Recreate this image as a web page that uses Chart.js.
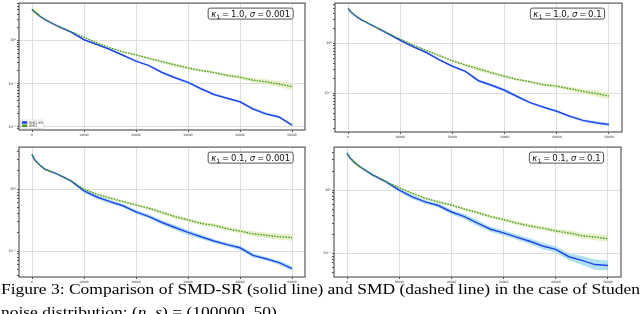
<!DOCTYPE html>
<html>
<head>
<meta charset="utf-8">
<script src="https://cdn.jsdelivr.net/npm/chart.js"></script>
<style>
  body { margin: 0; width: 640px; height: 314px; overflow: hidden; background: #fff; position: relative; }
  .panel { position: absolute; }
  .cap { position: absolute; left: 1px; white-space: nowrap; font-family: 'Liberation Serif', serif; font-size: 15px; line-height: 15px; color: #000; transform-origin: 0 0; }
</style>
</head>
<body>
<div class="panel" style="left:0px;top:0px"><canvas id="c1" width="310" height="140"></canvas></div>
<div class="panel" style="left:316px;top:0px"><canvas id="c2" width="310" height="142"></canvas></div>
<div class="panel" style="left:0px;top:144px"><canvas id="c3" width="310" height="143"></canvas></div>
<div class="panel" style="left:315px;top:144px"><canvas id="c4" width="310" height="143"></canvas></div>
<div class="cap" id="l1" style="top:282px">Figure 3: Comparison of SMD-SR (solid line) and SMD (dashed line) in the case of Student</div>
<div class="cap" id="l2" style="top:305px">noise distribution; (<i>n</i>, <i>s</i>) = (100000, 50)</div>
<script>
// iterations where the curves were read
var steps = [0, 500, 1500, 2500, 5000, 7500, 10000, 12500, 15000, 17500, 20000, 22500, 25000,
             27500, 30000, 32500, 35000, 37500, 40000, 42500, 45000, 47500, 50000];
var xTicks = [0, 10000, 20000, 30000, 40000, 50000];
var yTicks = [0.01, 0.1, 1];
var yTickLabels = ['10⁻²', '10⁻¹', '10⁰'];
var seriesNames = ['SMD-SR', 'SMD'];
var noteKappa = ['1.0', '1.0', '0.1', '0.1'];
var noteSigma = ['0.001', '0.1', '0.001', '0.1'];

// kappa = 1.0, sigma = 0.001
var tlSmdSr = [5.2, 4.5, 3.6, 3.0, 2.1, 1.55, 1.03, 0.80, 0.61, 0.45, 0.33, 0.26, 0.18, 0.137, 0.107, 0.076, 0.056, 0.046, 0.038, 0.026, 0.020, 0.017, 0.011];
var tlSmd   = [5.2, 4.5, 3.6, 3.0, 2.1, 1.58, 1.17, 0.87, 0.67, 0.54, 0.46, 0.38, 0.32, 0.27, 0.23, 0.20, 0.18, 0.155, 0.14, 0.12, 0.11, 0.098, 0.085];
var tlSmdSrBand = [0, 0, 0, 0, 0.005, 0.01, 0.015, 0.015, 0.02, 0.02, 0.02, 0.02, 0.025, 0.025, 0.03, 0.025, 0.025, 0.025, 0.02, 0.025, 0.03, 0.03, 0.03];
var tlSmdBand   = [0, 0, 0, 0, 0.005, 0.01, 0.01, 0.015, 0.015, 0.02, 0.02, 0.025, 0.035, 0.04, 0.035, 0.03, 0.03, 0.035, 0.04, 0.05, 0.06, 0.07, 0.07];

// kappa = 1.0, sigma = 0.1
var trSmdSr = [5.0, 4.3, 3.5, 3.0, 2.2, 1.6, 1.16, 0.86, 0.66, 0.47, 0.35, 0.276, 0.18, 0.146, 0.116, 0.086, 0.065, 0.053, 0.044, 0.035, 0.029, 0.026, 0.024];
var trSmd   = [5.0, 4.3, 3.5, 3.0, 2.2, 1.62, 1.22, 0.93, 0.72, 0.57, 0.45, 0.37, 0.31, 0.26, 0.22, 0.19, 0.17, 0.15, 0.14, 0.125, 0.11, 0.10, 0.089];
var trSmdSrBand = [0, 0, 0, 0, 0.005, 0.01, 0.015, 0.015, 0.015, 0.02, 0.02, 0.02, 0.025, 0.03, 0.03, 0.025, 0.02, 0.02, 0.02, 0.02, 0.025, 0.03, 0.03];
var trSmdBand   = [0, 0, 0, 0, 0.005, 0.01, 0.01, 0.015, 0.015, 0.02, 0.02, 0.03, 0.04, 0.035, 0.03, 0.025, 0.025, 0.03, 0.035, 0.04, 0.05, 0.06, 0.06];

// kappa = 0.1, sigma = 0.001
var blSmdSr = [3.65, 3.0, 2.46, 2.1, 1.74, 1.36, 0.94, 0.75, 0.63, 0.54, 0.43, 0.36, 0.29, 0.24, 0.20, 0.17, 0.145, 0.127, 0.113, 0.085, 0.075, 0.065, 0.052];
var blSmd   = [3.65, 3.0, 2.46, 2.1, 1.74, 1.36, 1.0, 0.83, 0.72, 0.63, 0.56, 0.49, 0.42, 0.36, 0.32, 0.28, 0.26, 0.23, 0.21, 0.19, 0.18, 0.17, 0.165];
var blSmdSrBand = [0, 0, 0, 0, 0.01, 0.02, 0.035, 0.035, 0.03, 0.03, 0.03, 0.035, 0.035, 0.04, 0.04, 0.035, 0.03, 0.03, 0.035, 0.035, 0.03, 0.035, 0.04];
var blSmdBand   = [0, 0, 0, 0, 0.01, 0.015, 0.015, 0.015, 0.02, 0.02, 0.02, 0.025, 0.03, 0.03, 0.03, 0.03, 0.03, 0.035, 0.035, 0.04, 0.045, 0.05, 0.05];

// kappa = 0.1, sigma = 0.1
var brSmdSr = [3.9, 3.28, 2.7, 2.33, 1.72, 1.35, 1.0, 0.78, 0.65, 0.57, 0.45, 0.38, 0.30, 0.24, 0.21, 0.18, 0.155, 0.13, 0.115, 0.088, 0.077, 0.066, 0.064];
var brSmd   = [3.9, 3.28, 2.7, 2.33, 1.72, 1.35, 1.09, 0.89, 0.74, 0.65, 0.58, 0.50, 0.44, 0.38, 0.34, 0.30, 0.27, 0.25, 0.225, 0.21, 0.19, 0.18, 0.17];
var brSmdSrBand = [0, 0, 0, 0, 0.01, 0.02, 0.035, 0.035, 0.03, 0.03, 0.035, 0.04, 0.045, 0.04, 0.04, 0.04, 0.045, 0.05, 0.05, 0.055, 0.07, 0.08, 0.08];
var brSmdBand   = [0, 0, 0, 0, 0.01, 0.015, 0.015, 0.015, 0.02, 0.02, 0.02, 0.025, 0.025, 0.025, 0.03, 0.03, 0.03, 0.03, 0.035, 0.04, 0.045, 0.05, 0.05];

var blue = '#2146f2', green = '#3f9c22';
var blueFill = 'rgba(125,205,232,0.6)', greenFill = 'rgba(218,228,160,0.6)';

function pts(vals, band, dir) {
    return steps.map(function(x, i) {
        var v = vals[i];
        if (band) v = v * Math.pow(10, dir * band[i]);
        return { x: x, y: v };
    });
}

function isDecade(v) {
    var l = Math.log10(v);
    return Math.abs(l - Math.round(l)) < 1e-6;
}

// frame, kappa/sigma box and the small legend
var panelDecor = {
    id: 'panelDecor',
    afterDatasetsDraw: function(chart, args, opts) {
        var a = chart.chartArea, ctx = chart.ctx;
        ctx.save();
        ctx.strokeStyle = '#5a5a5a';
        ctx.lineWidth = 1.2;
        ctx.strokeRect(a.left, a.top, a.right - a.left, a.bottom - a.top);

        var reg = '8.5px "DejaVu Sans"', ital = 'italic 8.5px "DejaVu Sans"', small = '6px "DejaVu Sans"';
        var segs = [
            { t: 'κ', f: ital, g: 0 }, { t: '1', f: small, g: 0.3, dy: 2 },
            { t: '=', f: reg, g: 1.8 }, { t: opts.kappa + ',', f: reg, g: 1.8 },
            { t: 'σ', f: ital, g: 2.5 }, { t: '=', f: reg, g: 1.8 }, { t: opts.sigma, f: reg, g: 1.8 }
        ];
        var w = 0;
        segs.forEach(function(s) { ctx.font = s.f; s.w = ctx.measureText(s.t).width; w += s.g + s.w; });
        var bw = w + 6, bh = 11;
        var cx = a.left + 0.81 * (a.right - a.left), top = a.top + 5;
        var bx = cx - bw / 2;
        ctx.beginPath();
        ctx.roundRect(bx, top, bw, bh, 2);
        ctx.fillStyle = '#fff';
        ctx.fill();
        ctx.lineWidth = 1;
        ctx.strokeStyle = '#555';
        ctx.stroke();
        ctx.fillStyle = '#111';
        ctx.textBaseline = 'alphabetic';
        var x = bx + 3;
        segs.forEach(function(s) {
            x += s.g;
            ctx.font = s.f;
            ctx.fillText(s.t, x, top + 8.5 + (s.dy || 0));
            x += s.w;
        });

        if (opts.legend) {
            var items = chart.data.datasets.filter(function(d) { return d.label; }).reverse();
            var lx = a.left + 1.5, ly = a.bottom - 10;
            ctx.beginPath();
            ctx.roundRect(lx, ly, 23, 8.5, 1);
            ctx.fillStyle = 'rgba(255,255,255,0.9)';
            ctx.fill();
            ctx.strokeStyle = '#d0d0d0';
            ctx.lineWidth = 0.6;
            ctx.stroke();
            ctx.font = '3.5px "DejaVu Sans"';
            items.forEach(function(d, i) {
                ctx.fillStyle = d.borderColor;
                ctx.fillRect(lx + 1.3, ly + 1.2 + i * 3.3, 5.5, 2.6);
                ctx.fillStyle = '#333';
                ctx.fillText(d.label, lx + 8.5, ly + 3.6 + i * 3.3);
            });
        }
        ctx.restore();
    }
};

function makeChart(id, sr, smd, srBand, smdBand, yMin, yMax, pad, k, legend) {
    var band = { pointRadius: 0, borderWidth: 0, borderColor: 'rgba(0,0,0,0)', label: '' };
    return new Chart(id, {
        type: 'line',
        data: {
            datasets: [
                { label: seriesNames[1], data: pts(smd), borderColor: green, borderWidth: 1.3, borderDash: [1.6, 1.2], pointRadius: 0, fill: false },
                { label: seriesNames[0], data: pts(sr), borderColor: blue, borderWidth: 1.5, pointRadius: 0, fill: false },
                Object.assign({ data: pts(smd, smdBand, 1), fill: '+1', backgroundColor: greenFill }, band),
                Object.assign({ data: pts(smd, smdBand, -1), fill: false }, band),
                Object.assign({ data: pts(sr, srBand, 1), fill: '+1', backgroundColor: blueFill }, band),
                Object.assign({ data: pts(sr, srBand, -1), fill: false }, band)
            ]
        },
        options: {
            responsive: false,
            animation: false,
            layout: { padding: pad },
            plugins: {
                legend: { display: false },
                tooltip: { enabled: false },
                panelDecor: { kappa: noteKappa[k], sigma: noteSigma[k], legend: legend }
            },
            scales: {
                x: {
                    type: 'linear', min: -2500, max: 52500,
                    afterBuildTicks: function(s) { s.ticks = xTicks.map(function(v) { return { value: v }; }); },
                    afterFit: function(s) { s.height = 10; },
                    border: { display: false },
                    grid: { color: '#dedede', lineWidth: 1, tickColor: '#555', tickLength: 2 },
                    ticks: { font: { size: 3, family: 'DejaVu Sans' }, color: '#333', padding: 1, maxRotation: 0, autoSkip: false,
                             callback: function(v) { return String(v); } }
                },
                y: {
                    type: 'logarithmic', min: yMin, max: yMax,
                    afterBuildTicks: function(s) {
                        var t = [];
                        for (var d = Math.floor(Math.log10(yMin)); d <= Math.ceil(Math.log10(yMax)); d++) {
                            for (var m = 1; m < 10; m++) {
                                var v = m * Math.pow(10, d);
                                if (v >= yMin && v <= yMax) t.push({ value: v });
                            }
                        }
                        s.ticks = t;
                    },
                    afterFit: function(s) { s.width = 19; },
                    border: { display: false },
                    grid: {
                        color: function(c) { return c.tick && isDecade(c.tick.value) ? '#dedede' : 'rgba(0,0,0,0)'; },
                        tickColor: '#555', tickLength: 2
                    },
                    ticks: {
                        font: { size: 3.5, family: 'DejaVu Sans' }, color: '#333', padding: 1, autoSkip: false,
                        callback: function(v) {
                            for (var i = 0; i < yTicks.length; i++) {
                                if (Math.abs(yTicks[i] - v) / yTicks[i] < 1e-6) return yTickLabels[i];
                            }
                            return '';
                        }
                    }
                }
            }
        },
        plugins: [panelDecor]
    });
}

makeChart('c1', tlSmdSr, tlSmd, tlSmdSrBand, tlSmdBand, 0.0085, 7.2, { top: 1, right: 5, left: 0, bottom: 0 }, 0, true);
makeChart('c2', trSmdSr, trSmd, trSmdSrBand, trSmdBand, 0.017, 6.4, { top: 2, right: 4, left: 0, bottom: 0 }, 1, false);
makeChart('c3', blSmdSr, blSmd, blSmdSrBand, blSmdBand, 0.038, 4.8, { top: 2, right: 5, left: 0, bottom: 0 }, 2, false);
makeChart('c4', brSmdSr, brSmd, brSmdSrBand, brSmdBand, 0.042, 4.8, { top: 3, right: 4, left: 0, bottom: 0 }, 3, false);

// stretch the caption so that "Studen" ends at the right edge like in the scan
var mc = document.createElement('canvas').getContext('2d');
mc.font = '15px "Liberation Serif"';
var fitW = mc.measureText('Figure 3: Comparison of SMD-SR (solid line) and SMD (dashed line) in the case of Studen').width;
var sx = 639 / fitW;
document.getElementById('l1').style.transform = 'scaleX(' + sx + ')';
document.getElementById('l2').style.transform = 'scaleX(' + sx + ')';
</script>
</body>
</html>
